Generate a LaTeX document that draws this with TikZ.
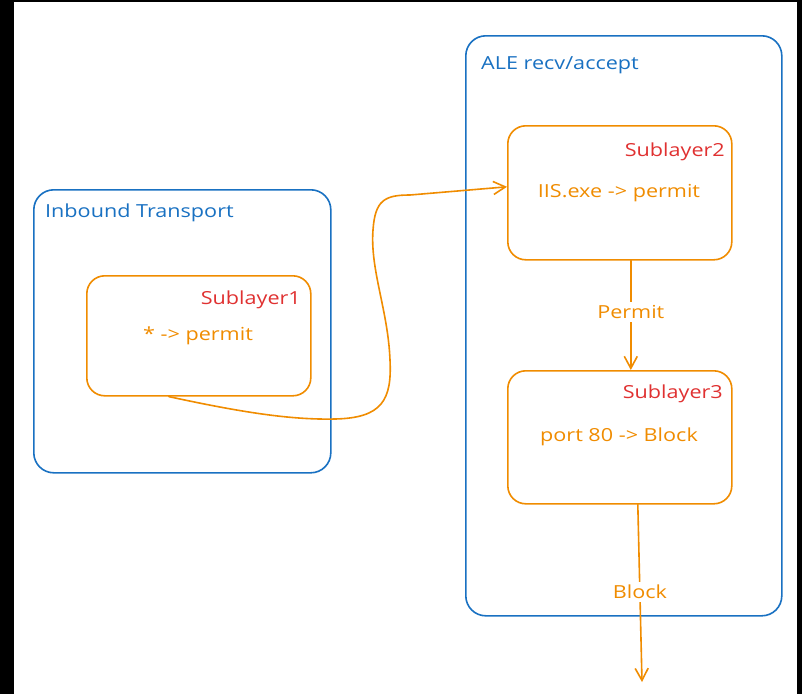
\documentclass[tikz,border=0pt]{standalone}
\usepackage{fontspec}
\setmainfont{Open Sans}[FakeStretch=1.2]
\usetikzlibrary{arrows.meta}
\definecolor{xblue}{HTML}{1971C2}
\definecolor{xorange}{HTML}{F08C00}
\definecolor{xred}{HTML}{E03131}
\begin{document}
\begin{tikzpicture}[x=1pt,y=-1pt,
  outerbox/.style={draw=xblue, line width=1.6pt, rounded corners=20pt, inner sep=0pt, anchor=north west},
  innerbox/.style={draw=xorange, line width=1.6pt, rounded corners=18pt, inner sep=0pt, anchor=north west, minimum width=224pt},
  txt/.style={font=\fontsize{18}{21}\selectfont, inner sep=1pt},
  bluetxt/.style={txt, text=xblue, anchor=west},
  redtxt/.style={txt, text=xred, anchor=east},
  orangetxt/.style={txt, text=xorange},
  conn/.style={draw=xorange, line width=1.6pt, line cap=round, -{Straight Barb[length=12pt,width=13pt,line width=1.6pt]}},
  lbl/.style={txt, text=xorange, fill=white, inner sep=3pt}
]
\fill[black] (0,0) rectangle (802,694);
\fill[white] (14,2) rectangle (797,694);
\useasboundingbox (0,0) rectangle (802,694);

% containers
\node[outerbox, minimum width=297pt, minimum height=283pt] (IT) at (33,189) {};
\node[outerbox, minimum width=316pt, minimum height=580pt] (ALE) at (465,35) {};
\node[bluetxt] (ITt) at (44,213) {Inbound Transport};
\node[bluetxt] (ALEt) at (480,65) {ALE recv/accept};

% sublayers
\node[innerbox, minimum height=120pt] (S1) at (86,275) {};
\node[innerbox, minimum height=134pt] (S2) at (507,125) {};
\node[innerbox, minimum height=133pt] (S3) at (507,370) {};

\node[redtxt] (S1n) at (302,300) {Sublayer1};
\node[orangetxt] (S1r) at (198,336) {* -> permit};
\node[redtxt] (S2n) at (726,152) {Sublayer2};
\node[orangetxt] (S2r) at (619,193) {IIS.exe -> permit};
\node[redtxt] (S3n) at (724,394) {Sublayer3};
\node[orangetxt] (S3r) at (619,437) {port 80 -> Block};

% connectors
\coordinate (c1) at ([xshift=-30pt]S1.south);
\draw[conn] (c1) .. controls (240,412) and (290,420) .. (335,419)
  .. controls (382,418) and (392,400) .. (390,360)
  .. controls (388,310) and (370,270) .. (373,230)
  .. controls (375,200) and (385,195) .. (410,195) -- ([yshift=6pt]S2.west);

\coordinate (s2out) at ([xshift=11pt]S2.south);
\draw[conn] (s2out) -- node[lbl, pos=0.47] (pl) {Permit} (s2out |- S3.north);

\coordinate (s3out) at ([xshift=18pt]S3.south);
\coordinate (endb) at (642,682);
\draw[conn] (s3out) -- (endb);
\node[lbl] (bl) at (640,592) {Block};
\end{tikzpicture}
\end{document}
